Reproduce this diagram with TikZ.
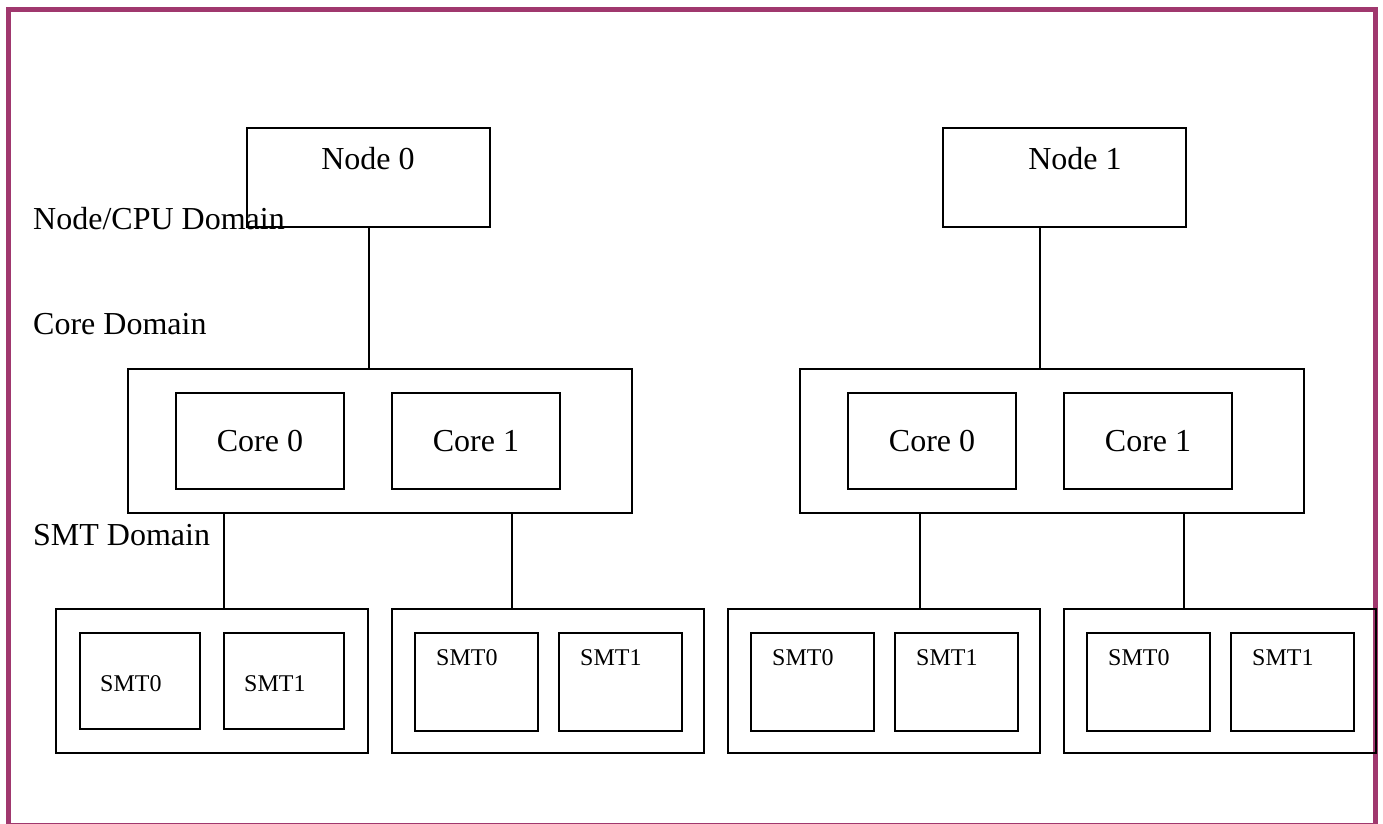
\documentclass[tikz,border=0pt]{standalone}
\usepackage{fontspec}
\setmainfont{Liberation Serif}
\definecolor{framecol}{RGB}{160,56,110}
\begin{document}
\begin{tikzpicture}[x=1pt,y=-1pt,
  box/.style={draw, line width=2pt, inner sep=0pt},
  bigtxt/.style={font=\fontsize{32}{38}\selectfont, inner sep=0pt},
  smalltxt/.style={font=\fontsize{24}{28}\selectfont, inner sep=0pt, anchor=base west},
  wire/.style={line width=2pt}]
\useasboundingbox (0,0) rectangle (1383,823);

% outer frame
\begin{scope}
  \clip (0,0) rectangle (1383,823);
  \draw[framecol, line width=5pt] (8,9.5) rectangle (1375.5,825);
\end{scope}

% NUMA nodes
\node[box, minimum width=243pt, minimum height=99pt] (n0) at (368.5,177.5) {};
\node[box, minimum width=243pt, minimum height=99pt] (n1) at (1064.5,177.5) {};
\node[bigtxt, anchor=base] (n0t) at (368,169) {Node 0};
\node[bigtxt, anchor=base] (n1t) at (1075,169) {Node 1};

% core groups
\node[box, minimum width=504pt, minimum height=144pt] (cg0) at (380,441) {};
\node[box, minimum width=504pt, minimum height=144pt] (cg1) at (1052,441) {};
\node[box, bigtxt, minimum width=168pt, minimum height=96pt] (c00) at (260,441) {Core 0};
\node[box, bigtxt, minimum width=168pt, minimum height=96pt] (c01) at (476,441) {Core 1};
\node[box, bigtxt, minimum width=168pt, minimum height=96pt] (c10) at (932,441) {Core 0};
\node[box, bigtxt, minimum width=168pt, minimum height=96pt] (c11) at (1148,441) {Core 1};

% SMT groups
\node[box, minimum width=312pt, minimum height=144pt] (sg0) at (212,681) {};
\node[box, minimum width=312pt, minimum height=144pt] (sg1) at (548,681) {};
\node[box, minimum width=312pt, minimum height=144pt] (sg2) at (884,681) {};
\node[box, minimum width=312pt, minimum height=144pt] (sg3) at (1220,681) {};

\node[box, minimum width=120pt, minimum height=96pt] (s00) at (140,681) {};
\node[box, minimum width=120pt, minimum height=96pt] (s01) at (284,681) {};
\node[box, minimum width=123pt, minimum height=98pt] (s10) at (476,681.5) {};
\node[box, minimum width=123pt, minimum height=98pt] (s11) at (620.5,681.5) {};
\node[box, minimum width=123pt, minimum height=98pt] (s20) at (812.5,681.5) {};
\node[box, minimum width=123pt, minimum height=98pt] (s21) at (956.5,681.5) {};
\node[box, minimum width=123pt, minimum height=98pt] (s30) at (1148.5,681.5) {};
\node[box, minimum width=123pt, minimum height=98pt] (s31) at (1292.5,681.5) {};

\node[smalltxt] (s00t) at (100,691) {SMT0};
\node[smalltxt] (s01t) at (244,691) {SMT1};
\node[smalltxt] (s10t) at (436,665) {SMT0};
\node[smalltxt] (s11t) at (580,665) {SMT1};
\node[smalltxt] (s20t) at (772,665) {SMT0};
\node[smalltxt] (s21t) at (916,665) {SMT1};
\node[smalltxt] (s30t) at (1108,665) {SMT0};
\node[smalltxt] (s31t) at (1252,665) {SMT1};

% domain labels
\node[bigtxt, anchor=base west] (dnode) at (33,229) {Node/CPU Domain};
\node[bigtxt, anchor=base west] (dcore) at (33,334) {Core Domain};
\node[bigtxt, anchor=base west] (dsmt) at (33,545) {SMT Domain};

% connectors
\draw[wire] (n0.south -| 369,0) -- (cg0.north -| 369,0);
\draw[wire] (n1.south -| 1040,0) -- (cg1.north -| 1040,0);
\draw[wire] (cg0.south -| 224,0) -- (sg0.north -| 224,0);
\draw[wire] (cg0.south -| 512,0) -- (sg1.north -| 512,0);
\draw[wire] (cg1.south -| 920,0) -- (sg2.north -| 920,0);
\draw[wire] (cg1.south -| 1184,0) -- (sg3.north -| 1184,0);
\end{tikzpicture}
\end{document}
